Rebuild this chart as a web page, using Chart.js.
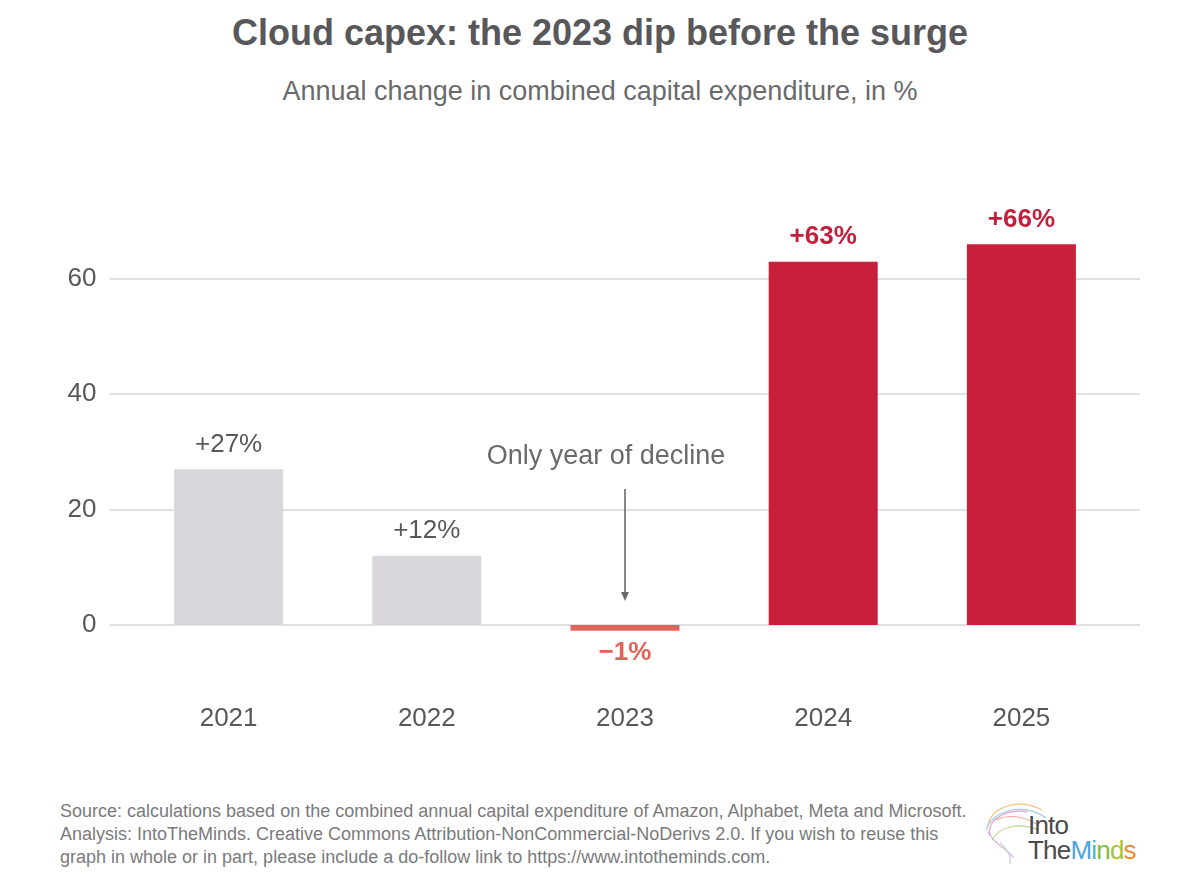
<!DOCTYPE html>
<html>
<head>
<meta charset="utf-8">
<script src="https://cdn.jsdelivr.net/npm/chart.js@4"></script>
<style>
  html, body { margin: 0; padding: 0; background: #fff; }
  body { width: 1200px; height: 886px; position: relative; overflow: hidden; font-family: "Liberation Sans", Arial, sans-serif; }
  #title { position: absolute; top: 12px; left: 0; width: 1200px; text-align: center; font-size: 36px; font-weight: bold; color: #58585a; }
  #subtitle { position: absolute; top: 76px; left: 0; width: 1200px; text-align: center; font-size: 27px; color: #6a6a6c; }
  #wrap { position: absolute; left: 0; top: 140px; width: 1200px; height: 620px; }
  #footer { position: absolute; left: 60px; top: 800px; font-size: 18px; line-height: 23px; color: #7a7a7c; }
  #logo { position: absolute; left: 980px; top: 796px; width: 170px; height: 80px; }
  #logo .t { position: absolute; left: 48px; font-size: 26px; color: #4a4a4a; line-height: 26px; letter-spacing: -0.8px; }
</style>
</head>
<body>
<div id="title">Cloud capex: the 2023 dip before the surge</div>
<div id="subtitle">Annual change in combined capital expenditure, in %</div>
<div id="wrap"><canvas id="capexChart"></canvas></div>
<div id="footer">Source: calculations based on the combined annual capital expenditure of Amazon, Alphabet, Meta and Microsoft.<br>Analysis: IntoTheMinds. Creative Commons Attribution-NonCommercial-NoDerivs 2.0. If you wish to reuse this<br>graph in whole or in part, please include a do-follow link to https://www.intotheminds.com.</div>
<div id="logo">
  <svg width="80" height="70" style="position:absolute;left:0;top:0" fill="none" stroke-width="1.2">
    <path d="M8 30 C10 10, 40 2, 62 14" stroke="#f4c27a"/>
    <path d="M6 34 C12 14, 44 6, 66 22" stroke="#9ccbe8"/>
    <path d="M10 40 C6 24, 26 12, 48 16" stroke="#e8a0c8"/>
    <path d="M12 44 C20 30, 40 26, 58 34" stroke="#b7d98c"/>
    <path d="M8 36 C14 48, 26 52, 34 62" stroke="#d7b3e0"/>
    <path d="M16 24 C28 18, 44 20, 56 28" stroke="#f2a6a0"/>
    <path d="M20 46 C26 54, 32 58, 30 68" stroke="#c9c9d6"/>
  </svg>
  <div class="t" style="top:16px">Into</div>
  <div class="t" style="top:41px">The<span style="color:#4aa3df">M</span><span style="color:#45b8c8">i</span><span style="color:#7cbf3c">n</span><span style="color:#a9c23a">d</span><span style="color:#f08a2c">s</span></div>
</div>
<script>
// --- data ---
const years = ["2021", "2022", "2023", "2024", "2025"];
const changePct = [27, 12, -1, 63, 66];
const valueLabels = ["+27%", "+12%", "\u22121%", "+63%", "+66%"];
const yTicks = [0, 20, 40, 60];

// --- colours ---
const barColors = ["#d9d7db", "#d9d7db", "#e0645a", "#c8203a", "#c8203a"];
const labelColors = ["#58585a", "#58585a", "#e0645a", "#c21f3c", "#c21f3c"];
const labelBold = [false, false, true, true, true];

const FONT = '"Liberation Sans", Arial, sans-serif';

// gridlines run a little past the category band, like the original
const gridPlugin = {
  id: "wideGrid",
  beforeDatasetsDraw(chart) {
    const { ctx, chartArea, scales } = chart;
    ctx.save();
    ctx.strokeStyle = "#e1e0e4";
    ctx.lineWidth = 2;
    yTicks.forEach((v) => {
      const y = Math.round(scales.y.getPixelForValue(v));
      ctx.beginPath();
      ctx.moveTo(chartArea.left - 19.5, y);
      ctx.lineTo(chartArea.right + 19.5, y);
      ctx.stroke();
    });
    ctx.restore();
  },
};

const labelPlugin = {
  id: "barLabels",
  afterDatasetsDraw(chart) {
    const { ctx } = chart;
    const meta = chart.getDatasetMeta(0);
    ctx.save();
    ctx.textAlign = "center";
    ctx.textBaseline = "middle";
    meta.data.forEach((bar, i) => {
      const v = changePct[i];
      ctx.font = (labelBold[i] ? "bold " : "") + "26px " + FONT;
      ctx.fillStyle = labelColors[i];
      const y = v >= 0 ? bar.y - 24.5 : bar.y + 22;
      ctx.fillText(valueLabels[i], bar.x, y);
    });

    // annotation on the 2023 bar
    const b = meta.data[2];
    ctx.font = "27px " + FONT;
    ctx.fillStyle = "#6a6a6c";
    ctx.fillText("Only year of decline", b.x - 19, 317);
    ctx.strokeStyle = "#6a6a6c";
    ctx.fillStyle = "#6a6a6c";
    ctx.lineWidth = 1.6;
    ctx.beginPath();
    ctx.moveTo(b.x, 349);
    ctx.lineTo(b.x, 455);
    ctx.stroke();
    ctx.beginPath();
    ctx.moveTo(b.x - 4, 452);
    ctx.lineTo(b.x + 4, 452);
    ctx.lineTo(b.x, 461);
    ctx.closePath();
    ctx.fill();
    ctx.restore();
  },
};

new Chart(document.getElementById("capexChart"), {
  type: "bar",
  data: {
    labels: years,
    datasets: [
      {
        data: changePct,
        backgroundColor: barColors,
        borderWidth: 0,
        barPercentage: 0.55,
        categoryPercentage: 1,
      },
    ],
  },
  options: {
    responsive: true,
    maintainAspectRatio: false,
    animation: false,
    layout: { padding: { top: 23.6, right: 79.5, left: 0, bottom: 0 } },
    plugins: { legend: { display: false }, tooltip: { enabled: false } },
    scales: {
      x: {
        grid: { display: false },
        border: { display: false },
        ticks: { color: "#58585a", font: { family: FONT, size: 26 }, padding: 13 },
        afterFit(scale) { scale.height = 77.3; },
      },
      y: {
        min: -10,
        max: 80,
        grid: { display: false },
        border: { display: false },
        afterBuildTicks(scale) { scale.ticks = yTicks.map((v) => ({ value: v })); },
        afterFit(scale) {
          scale.width = 129.5;
          scale.paddingTop = 0;
          scale.paddingBottom = 0;
        },
        ticks: { color: "#58585a", font: { family: FONT, size: 26 }, padding: 25 },
      },
    },
  },
  plugins: [gridPlugin, labelPlugin],
});
</script>
</body>
</html>
